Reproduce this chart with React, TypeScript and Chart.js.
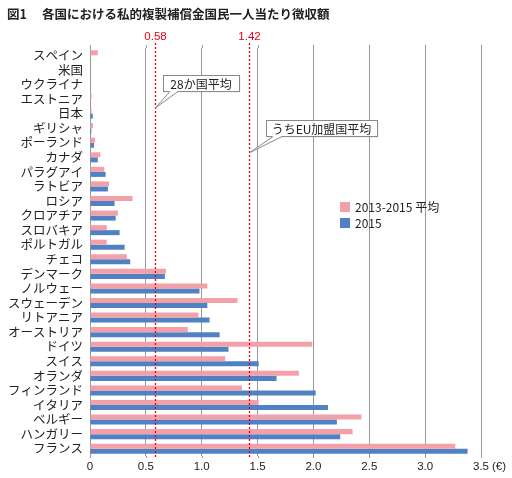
import React, { useEffect, useRef } from 'react';
import { Chart, registerables } from 'chart.js';
Chart.register(...registerables);

const TITLE_FIG = '図1';
const TITLE = '各国における私的複製補償金国民一人当たり徴収額';
const categories = ['スペイン', '米国', 'ウクライナ', 'エストニア', '日本', 'ギリシャ', 'ポーランド', 'カナダ', 'パラグアイ', 'ラトビア', 'ロシア', 'クロアチア', 'スロバキア', 'ポルトガル', 'チェコ', 'デンマーク', 'ノルウェー', 'スウェーデン', 'リトアニア', 'オーストリア', 'ドイツ', 'スイス', 'オランダ', 'フィンランド', 'イタリア', 'ベルギー', 'ハンガリー', 'フランス'];
const avg2013to2015 = [0.07, 0, 0, 0.015, 0.015, 0.027, 0.045, 0.092, 0.128, 0.17, 0.38, 0.25, 0.15, 0.15, 0.33, 0.68, 1.05, 1.32, 0.97, 0.875, 1.99, 1.21, 1.87, 1.36, 1.51, 2.43, 2.35, 3.27];
const val2015 = [0, 0, 0, 0, 0.025, 0.012, 0.036, 0.07, 0.14, 0.16, 0.22, 0.23, 0.265, 0.31, 0.36, 0.67, 0.98, 1.05, 1.07, 1.16, 1.24, 1.51, 1.67, 2.02, 2.13, 2.21, 2.24, 3.38];
const seriesLabels = ['2013-2015 平均', '2015'];
const xTickValues = [0, 0.5, 1, 1.5, 2, 2.5, 3, 3.5];
const refValues = [0.58, 1.42];
const refValueLabels = ['0.58', '1.42'];
const refNames = ['28か国平均', 'うちEU加盟国平均'];
const unitLabel = '(€)';

const PINK = '#f2a1a9';
const BLUE = '#5081c2';
const RED = '#e60012';
const GRID = '#999';
const JP = '"Noto Sans CJK JP", sans-serif';
const NUM = '"Liberation Sans", "Noto Sans CJK JP", sans-serif';

function callout(ctx: CanvasRenderingContext2D, text: string, bx: number, by: number, bw: number, bh: number, b1x: number, b2x: number, tipX: number, tipY: number) {
  ctx.save();
  ctx.setLineDash([]);
  ctx.lineWidth = 1;
  ctx.strokeStyle = '#8a8a8a';
  ctx.fillStyle = '#ffffff';
  ctx.shadowColor = 'rgba(0,0,0,0.25)';
  ctx.shadowOffsetX = 1;
  ctx.shadowOffsetY = 1;
  ctx.shadowBlur = 1;
  ctx.fillRect(bx, by, bw, bh);
  ctx.shadowColor = 'transparent';
  ctx.strokeRect(bx + 0.5, by + 0.5, bw, bh);
  ctx.beginPath();
  ctx.moveTo(b1x, by + bh);
  ctx.lineTo(tipX, tipY);
  ctx.lineTo(b2x, by + bh);
  ctx.closePath();
  ctx.fill();
  ctx.fillRect(b1x + 0.5, by + bh - 0.5, b2x - b1x - 1, 2);
  ctx.beginPath();
  ctx.moveTo(b1x, by + bh + 0.5);
  ctx.lineTo(tipX, tipY);
  ctx.lineTo(b2x, by + bh + 0.5);
  ctx.stroke();
  ctx.fillStyle = '#222';
  ctx.font = `12px ${JP}`;
  ctx.textAlign = 'center';
  ctx.textBaseline = 'middle';
  ctx.fillText(text, bx + bw / 2, by + bh / 2 + 1);
  ctx.restore();
}

export default function App() {
  const ref = useRef<HTMLCanvasElement>(null);
  useEffect(() => {
    const canvas = ref.current!;
    const annot = {
      id: 'annot',
      beforeDatasetsDraw(chart: any) {
        const { ctx, scales, chartArea } = chart;
        const xs = scales.x;
        ctx.save();
        ctx.strokeStyle = GRID;
        ctx.lineWidth = 1;
        xTickValues.forEach((v) => {
          const px = Math.round(xs.getPixelForValue(v)) + 0.5;
          ctx.beginPath();
          ctx.moveTo(px, 45);
          ctx.lineTo(px, chartArea.top);
          ctx.moveTo(px, chartArea.bottom);
          ctx.lineTo(px, 458);
          ctx.stroke();
        });
        ctx.restore();
      },
      afterDatasetsDraw(chart: any) {
        const { ctx, scales } = chart;
        const xs = scales.x;
        ctx.save();
        ctx.fillStyle = '#222';
        ctx.font = `bold 12.5px ${JP}`;
        ctx.textBaseline = 'middle';
        ctx.textAlign = 'left';
        ctx.fillText(TITLE_FIG, 7, 14);
        ctx.fillText(TITLE, 42, 14);
        ctx.strokeStyle = RED;
        ctx.lineWidth = 1.3;
        ctx.setLineDash([2, 2]);
        refValues.forEach((v, i) => {
          const px = Math.round(xs.getPixelForValue(v)) + 0.5;
          ctx.beginPath();
          ctx.moveTo(px, 43);
          ctx.lineTo(px, 458);
          ctx.stroke();
          ctx.fillStyle = RED;
          ctx.font = `11.5px ${NUM}`;
          ctx.textAlign = 'center';
          ctx.textBaseline = 'middle';
          ctx.fillText(refValueLabels[i], px, 37);
        });
        ctx.setLineDash([]);
        const t1 = xs.getPixelForValue(refValues[0]);
        const t2 = xs.getPixelForValue(refValues[1]);
        callout(ctx, refNames[0], 163, 75, 76, 16, 170, 178, t1 + 0.5, 108);
        callout(ctx, refNames[1], 266, 120, 111, 16, 273, 282, t2 + 0.5, 153);
        ctx.font = `12px ${JP}`;
        ctx.textAlign = 'left';
        ctx.textBaseline = 'middle';
        ctx.fillStyle = PINK;
        ctx.fillRect(340, 202, 10, 10);
        ctx.fillStyle = BLUE;
        ctx.fillRect(340, 218, 10, 10);
        ctx.fillStyle = '#222';
        ctx.fillText(seriesLabels[0], 355, 207.5);
        ctx.fillText(seriesLabels[1], 355, 223.5);
        ctx.font = `11.5px ${NUM}`;
        ctx.fillText(unitLabel, xs.getPixelForValue(3.5) + 11, 466.5);
        ctx.restore();
      },
    };
    const chart = new Chart(canvas, {
      type: 'bar',
      data: {
        labels: categories,
        datasets: [
          { label: seriesLabels[0], data: avg2013to2015, backgroundColor: PINK, categoryPercentage: 0.69, barPercentage: 1 },
          { label: seriesLabels[1], data: val2015, backgroundColor: BLUE, categoryPercentage: 0.69, barPercentage: 1 },
        ],
      },
      options: {
        indexAxis: 'y',
        responsive: false,
        animation: false,
        layout: { padding: { top: 48, left: 0, right: 31, bottom: 0 } },
        plugins: { legend: { display: false }, tooltip: { enabled: false }, title: { display: false } },
        scales: {
          x: {
            min: 0,
            max: 3.5,
            afterBuildTicks: (s: any) => { s.ticks = xTickValues.map((v) => ({ value: v })); },
            ticks: { padding: 4, color: '#222', font: { family: NUM, size: 11.5 } },
            grid: { color: GRID, drawTicks: false },
            border: { display: false },
            afterFit: (s: any) => { s.height = 22; },
          },
          y: {
            ticks: { padding: 7, color: '#222', autoSkip: false, font: { family: JP, size: 12.5 } },
            grid: { display: false, drawTicks: false },
            border: { display: false },
            afterFit: (s: any) => { s.width = 90; },
          },
        },
      },
      plugins: [annot],
    } as any);
    return () => chart.destroy();
  }, []);
  return (
    <div style={{ position: 'absolute', left: 0, top: 0, width: 512, height: 478, background: '#fff' }}>
      <canvas ref={ref} width={512} height={478} style={{ display: 'block' }} />
    </div>
  );
}
